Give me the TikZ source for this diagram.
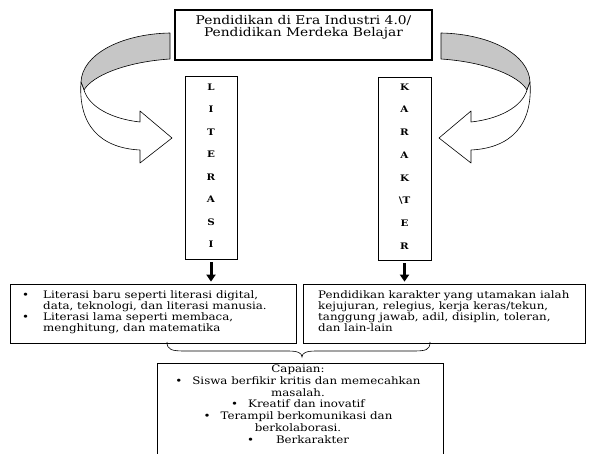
\documentclass[tikz,border=0pt]{standalone}
\usepackage{fontspec}
\setmainfont{DejaVu Serif}[FakeStretch=1.15]
\usetikzlibrary{arrows.meta}
\definecolor{ribbongray}{RGB}{198,198,198}
\tikzset{
  box/.style={draw, line width=0.7pt, inner sep=0pt},
  textblock/.style={inner sep=0pt, align=left, font=\fontsize{10.3}{11.3}\selectfont},
  goalblock/.style={inner sep=0pt, align=center, font=\fontsize{10.3}{11.7}\selectfont},
  letter/.style={inner sep=0pt, font=\bfseries\fontsize{9}{9}\selectfont},
  downarrow/.style={line width=3pt, -{Triangle[width=9pt,length=7pt]}},
  ribbon/.style={draw, line width=0.6pt, line join=round}
}
\begin{document}
\begin{tikzpicture}[x=1pt,y=-1pt]
  \useasboundingbox (0,0) rectangle (589,454);
  % curved arrows, the right one mirrored
  \foreach \flip/\shift in {1/0,-1/611}{
    \begin{scope}[xshift=\shift pt, xscale=\flip]
      \filldraw[ribbon, fill=ribbongray] (170,33) .. controls (120,34) and (82,55) .. (81,82)
        -- (84,90) .. controls (92,76) and (125,62) .. (170,59) -- cycle;
      \filldraw[ribbon, fill=white] (81,82) .. controls (78,125) and (100,148) .. (140,150)
        -- (140,163) -- (172,138) -- (140,111) -- (140,122)
        .. controls (112,119) and (89,107) .. (84,90) -- cycle;
    \end{scope}
  }
  % top box
  \node[box, line width=2.8pt, minimum width=257pt, minimum height=50pt] (top) at (303.5,35) {};
  \node[inner sep=0pt, align=center, font=\fontsize{12}{12}\selectfont] (toptext) at (303.5,27)
    {Pendidikan di Era Industri 4.0/\\Pendidikan Merdeka Belajar};
  % vertical columns
  \node[box, minimum width=52pt, minimum height=183pt] (lit) at (211,167.5) {};
  \node[box, minimum width=53pt, minimum height=183pt] (kar) at (404.5,168.5) {};
  \foreach \ch [count=\i from 0] in {L,I,T,E,R,A,S,I}
    \node[letter] (lit\i) at (211,{87+22.5*\i}) {\ch};
  \foreach \ch [count=\i from 0] in {K,A,R,A,K,\textbackslash T,E,R}
    \node[letter] (kar\i) at (404.5,{87+22.7*\i}) {\ch};
  % lower boxes
  \node[box, minimum width=286pt, minimum height=59pt] (leftbox) at (153,313.5) {};
  \node[box, minimum width=282pt, minimum height=59pt] (rightbox) at (444,313.5) {};
  \node[textblock, anchor=north west] (lefttext) at (22,290)
    {\makebox[21pt][l]{\textbullet}Literasi baru seperti literasi digital,\\
     \hspace*{21pt}data, teknologi, dan literasi manusia.\\
     \makebox[21pt][l]{\textbullet}Literasi lama seperti membaca,\\
     \hspace*{21pt}menghitung, dan matematika};
  \node[textblock, anchor=north west] (righttext) at (318,290)
    {Pendidikan karakter yang utamakan ialah\\
     kejujuran, relegius, kerja keras/tekun,\\
     tanggung jawab, adil, disiplin, toleran,\\
     dan lain-lain};
  \draw[downarrow] ([yshift=-3pt]lit.south) -- ([yshift=2pt]lit.south |- leftbox.north);
  \draw[downarrow] ([yshift=-3pt]kar.south) -- ([yshift=2pt]kar.south |- rightbox.north);
  % brace
  \draw[line width=0.6pt] (167,342) .. controls (167,350) and (172,351) .. (185,351) -- (288,351)
    .. controls (298,351) and (302,353) .. (302,357)
    .. controls (302,353) and (306,351) .. (316,351) -- (413,351)
    .. controls (426,351) and (430,350) .. (430,342);
  % goals
  \node[box, minimum width=286pt, minimum height=110pt, anchor=north] (goal) at (300,363) {};
  \node[goalblock, anchor=north] (goaltext) at (298,365)
    {Capaian:\\
     \textbullet\hspace{10pt}Siswa berfikir kritis dan memecahkan\\
     masalah.\\
     \textbullet\hspace{10pt}Kreatif dan inovatif\\
     \textbullet\hspace{10pt}Terampil berkomunikasi dan\\
     berkolaborasi.\\
     \textbullet\hspace{22pt}Berkarakter};
\end{tikzpicture}
\end{document}
